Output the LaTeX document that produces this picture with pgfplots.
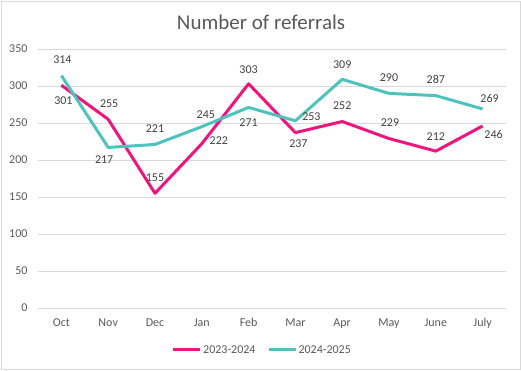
\documentclass[border=0pt]{standalone}
\usepackage{fontspec}
\setmainfont{Carlito}
\usepackage{pgfplots}
\pgfplotsset{compat=1.18}
\usepackage{pgfplotstable}
\definecolor{pinkc}{HTML}{F0147E}
\definecolor{tealc}{HTML}{4EC3BE}
\definecolor{gridc}{HTML}{D9D9D9}
\definecolor{tickc}{HTML}{595959}
\definecolor{labc}{HTML}{404040}
\pgfplotstableread{
x y dx dy
0 301 2 -15
1 255 1 16
2 155 0 16
3 222 17 3
4 303 0 14
5 237 3 -11
6 252 0 16
7 229 1 16
8 212 0 15
9 246 11 -9
}\pinkdata
\pgfplotstableread{
x y dx dy
0 314 1 16
1 217 -4 -12
2 221 0 16
3 245 4 12
4 271 0 -15
5 253 16 4
6 309 0 15
7 290 0 16
8 287 0 16
9 269 7 10
}\tealdata
\begin{document}
\begin{tikzpicture}
\useasboundingbox (-38pt,-62pt) rectangle (483pt,308pt);
\draw[gridc, line width=0.75pt] (-37pt,-61pt) rectangle (482pt,307pt);
\begin{axis}[
  scale only axis, width=468pt, height=259pt,
  xmin=-0.5, xmax=9.5, ymin=0, ymax=350,
  xtick={0,...,9},
  xticklabels={Oct,Nov,Dec,Jan,Feb,Mar,Apr,May,June,July},
  ytick={0,50,...,350},
  axis line style={draw=none},
  major tick length=0pt,
  ymajorgrids, grid style={gridc, line width=0.75pt},
  tick label style={font=\fontsize{12}{14}\selectfont, text=tickc},
  /pgf/number format/assume math mode=true,
  yticklabel style={xshift=-7pt},
  xticklabel style={yshift=-7pt},
  title={Number of referrals},
  title style={font=\fontsize{21}{24}\selectfont, text=tickc, at={(0.5,1)}, anchor=center, yshift=21pt, xshift=-11pt},
  clip=false,
  legend columns=2,
  legend style={at={(0.5,-0.162)}, anchor=center, xshift=-10pt, draw=none, fill=none,
    font=\fontsize{12}{14}\selectfont, text=tickc, inner sep=0pt,
    nodes={inner sep=1.5pt},
    /tikz/every even column/.append style={column sep=10pt}},
  legend image code/.code={\draw[#1, line width=3pt] (0pt,0pt) -- (27pt,0pt);},
  nodes near coords,
  visualization depends on={\thisrow{dx}\as\mydx},
  visualization depends on={\thisrow{dy}\as\mydy},
  every node near coord/.append style={font=\fontsize{12}{14}\selectfont, text=labc, anchor=center, xshift=\mydx, yshift=\mydy},
]
\addplot[pinkc, line width=3pt, line join=round, no markers] table[x=x, y=y] {\pinkdata};
\addlegendentry{2023-2024}
\addplot[tealc, line width=3pt, line join=round, no markers] table[x=x, y=y] {\tealdata};
\addlegendentry{2024-2025}
\end{axis}
\end{tikzpicture}
\end{document}
